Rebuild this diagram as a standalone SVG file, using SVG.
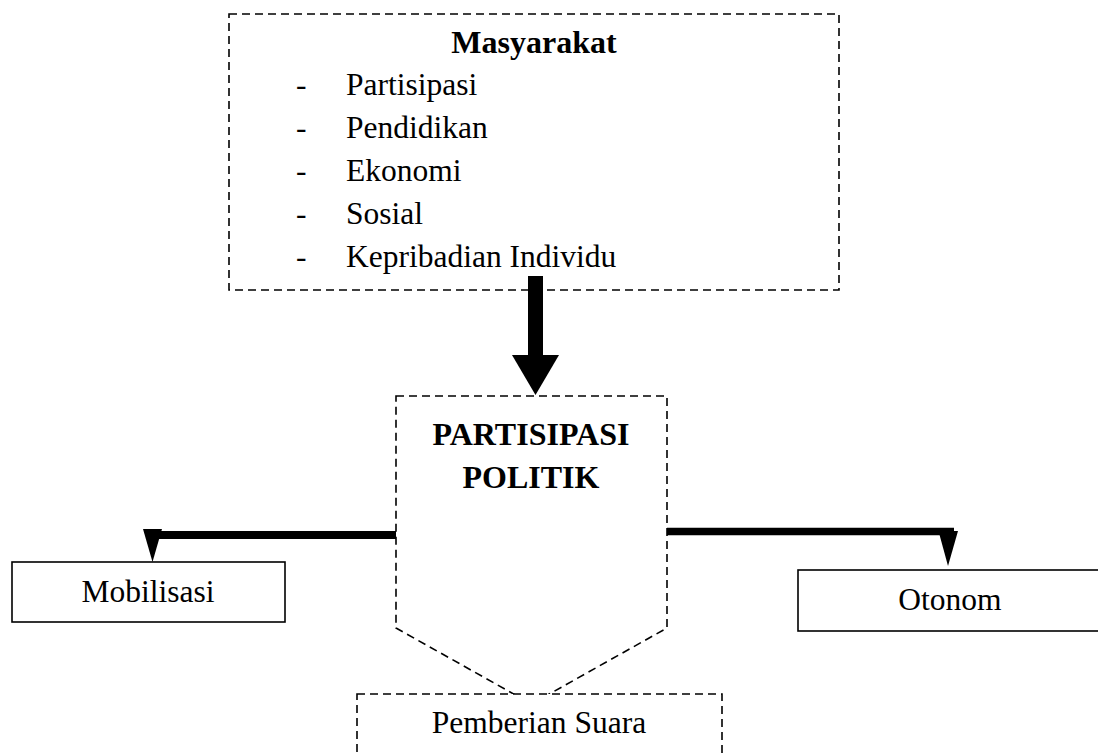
<svg xmlns="http://www.w3.org/2000/svg" width="1098" height="753" viewBox="0 0 1098 753">
<style>
.dash{fill:none;stroke:#000;stroke-width:1.6;stroke-dasharray:8 5}
.solid{fill:#fff;stroke:#000;stroke-width:1.6}
.t{font-family:"Liberation Serif","Times New Roman",serif;font-size:31.5px;fill:#000}
.b{font-family:"Liberation Serif","Times New Roman",serif;font-size:32px;font-weight:bold;fill:#000}
</style>
<rect width="1098" height="753" fill="#fff"/>
<g id="masyarakat">
<rect class="dash" x="229" y="14" width="610" height="276"/>
<text class="b" x="534" y="53" text-anchor="middle">Masyarakat</text>
<text class="t" x="296" y="95">-</text><text class="t" x="346" y="95">Partisipasi</text>
<text class="t" x="296" y="138">-</text><text class="t" x="346" y="138">Pendidikan</text>
<text class="t" x="296" y="181">-</text><text class="t" x="346" y="181">Ekonomi</text>
<text class="t" x="296" y="224">-</text><text class="t" x="346" y="224">Sosial</text>
<text class="t" x="296" y="267">-</text><text class="t" x="346" y="267">Kepribadian Individu</text>
</g>
<g id="partisipasi-politik">
<polygon class="dash" points="396,396 667,396 667,628 531.5,704 396,628"/>
<text class="b" x="531" y="445" text-anchor="middle">PARTISIPASI</text>
<text class="b" x="531" y="488" text-anchor="middle">POLITIK</text>
</g>
<g id="pemberian-suara">
<rect x="357" y="694" width="365" height="80" fill="#fff" stroke="#000" stroke-width="1.6" stroke-dasharray="8 5"/>
<text class="t" x="539" y="733" text-anchor="middle">Pemberian Suara</text>
</g>
<g id="mobilisasi">
<rect class="solid" x="12" y="562" width="273" height="60"/>
<text class="t" x="148" y="602" text-anchor="middle">Mobilisasi</text>
</g>
<g id="otonom">
<rect class="solid" x="798" y="570" width="310" height="61"/>
<text class="t" x="950" y="610" text-anchor="middle">Otonom</text>
</g>
<g id="connectors">
<rect x="528" y="276" width="15" height="80" fill="#000"/>
<polygon points="512,355 559,355 535.5,395" fill="#000"/>
<line x1="396" y1="535" x2="158" y2="535" stroke="#000" stroke-width="8"/>
<polygon points="143,529 162,529 152.5,562" fill="#000"/>
<line x1="667" y1="531.5" x2="954" y2="531.5" stroke="#000" stroke-width="7.5"/>
<polygon points="938.5,531 958,531 948,566" fill="#000"/>
</g>
</svg>
